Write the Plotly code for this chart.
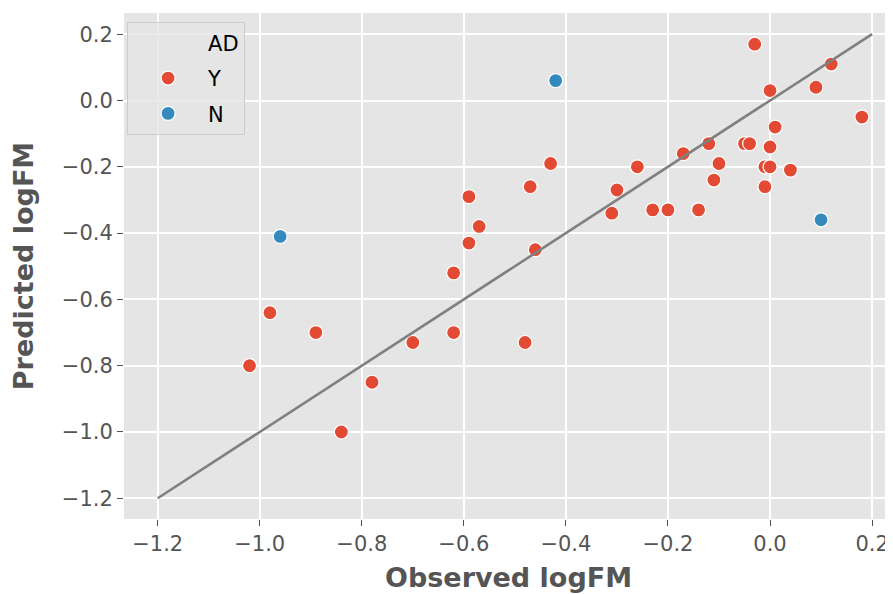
import plotly.graph_objects as go

# Data
y_obs = [-1.02, -0.98, -0.89, -0.84, -0.78, -0.70, -0.62, -0.62, -0.59, -0.59, -0.57,
         -0.48, -0.47, -0.46, -0.43, -0.31, -0.30, -0.26, -0.23, -0.20, -0.17, -0.14,
         -0.12, -0.11, -0.10, -0.05, -0.04, -0.03, -0.01, -0.01, 0.00, 0.00, 0.00,
         0.01, 0.04, 0.09, 0.12, 0.18]
y_pred = [-0.80, -0.64, -0.70, -1.00, -0.85, -0.73, -0.70, -0.52, -0.43, -0.29, -0.38,
          -0.73, -0.26, -0.45, -0.19, -0.34, -0.27, -0.20, -0.33, -0.33, -0.16, -0.33,
          -0.13, -0.24, -0.19, -0.13, -0.13, 0.17, -0.20, -0.26, -0.20, -0.14, 0.03,
          -0.08, -0.21, 0.04, 0.11, -0.05]
n_obs = [-0.96, -0.42, 0.10]
n_pred = [-0.41, 0.06, -0.36]
diag = [-1.2, 0.2]
tick_vals = [-1.2, -1.0, -0.8, -0.6, -0.4, -0.2, 0.0, 0.2]
tick_text = ["\u22121.2", "\u22121.0", "\u22120.8", "\u22120.6", "\u22120.4", "\u22120.2", "0.0", "0.2"]

RED = "#E24A33"
BLUE = "#348ABD"
FONT = "DejaVu Sans"

fig = go.Figure()
fig.add_trace(go.Scatter(x=[None], y=[None], mode="markers", name="AD",
                         marker=dict(color="rgba(0,0,0,0)", size=13),
                         legendgroup="a", showlegend=True))
fig.add_trace(go.Scatter(x=y_obs, y=y_pred, mode="markers", name="Y",
                         marker=dict(color=RED, size=14, line=dict(color="white", width=1.2)),
                         legendgroup="b"))
fig.add_trace(go.Scatter(x=n_obs, y=n_pred, mode="markers", name="N",
                         marker=dict(color=BLUE, size=14, line=dict(color="white", width=1.2)),
                         legendgroup="c"))
fig.add_trace(go.Scatter(x=diag, y=diag, mode="lines", showlegend=False,
                         line=dict(color="#808080", width=2.6)))

axis_common = dict(
    tickvals=tick_vals, ticktext=tick_text,
    showgrid=True, gridcolor="white", gridwidth=1.6,
    zeroline=False, showline=False, automargin=False,
    ticks="outside", ticklen=6, tickwidth=1, tickcolor="#555555",
    tickfont=dict(family=FONT, size=21, color="#555555"),
)

fig.update_layout(
    width=885, height=586,
    margin=dict(l=116, r=0, t=5, b=75),
    paper_bgcolor="white", plot_bgcolor="#E5E5E5",
    font=dict(family=FONT),
    xaxis=dict(range=[-1.266, 0.241],
               title=dict(text="<b>Observed logFM</b>", font=dict(family=FONT, size=27, color="#555555"), standoff=12),
               **axis_common),
    yaxis=dict(range=[-1.2625, 0.264],
               title=dict(text="<b>Predicted logFM</b>", font=dict(family=FONT, size=27, color="#555555"), standoff=21),
               **axis_common),
    legend=dict(x=0.004, y=0.983, xanchor="left", yanchor="top",
                bgcolor="rgba(229,229,229,0.8)", bordercolor="#CCCCCC", borderwidth=1,
                font=dict(family=FONT, size=21, color="black"),
                traceorder="grouped", tracegroupgap=5, itemwidth=70),
)

fig.write_html("out.html")
